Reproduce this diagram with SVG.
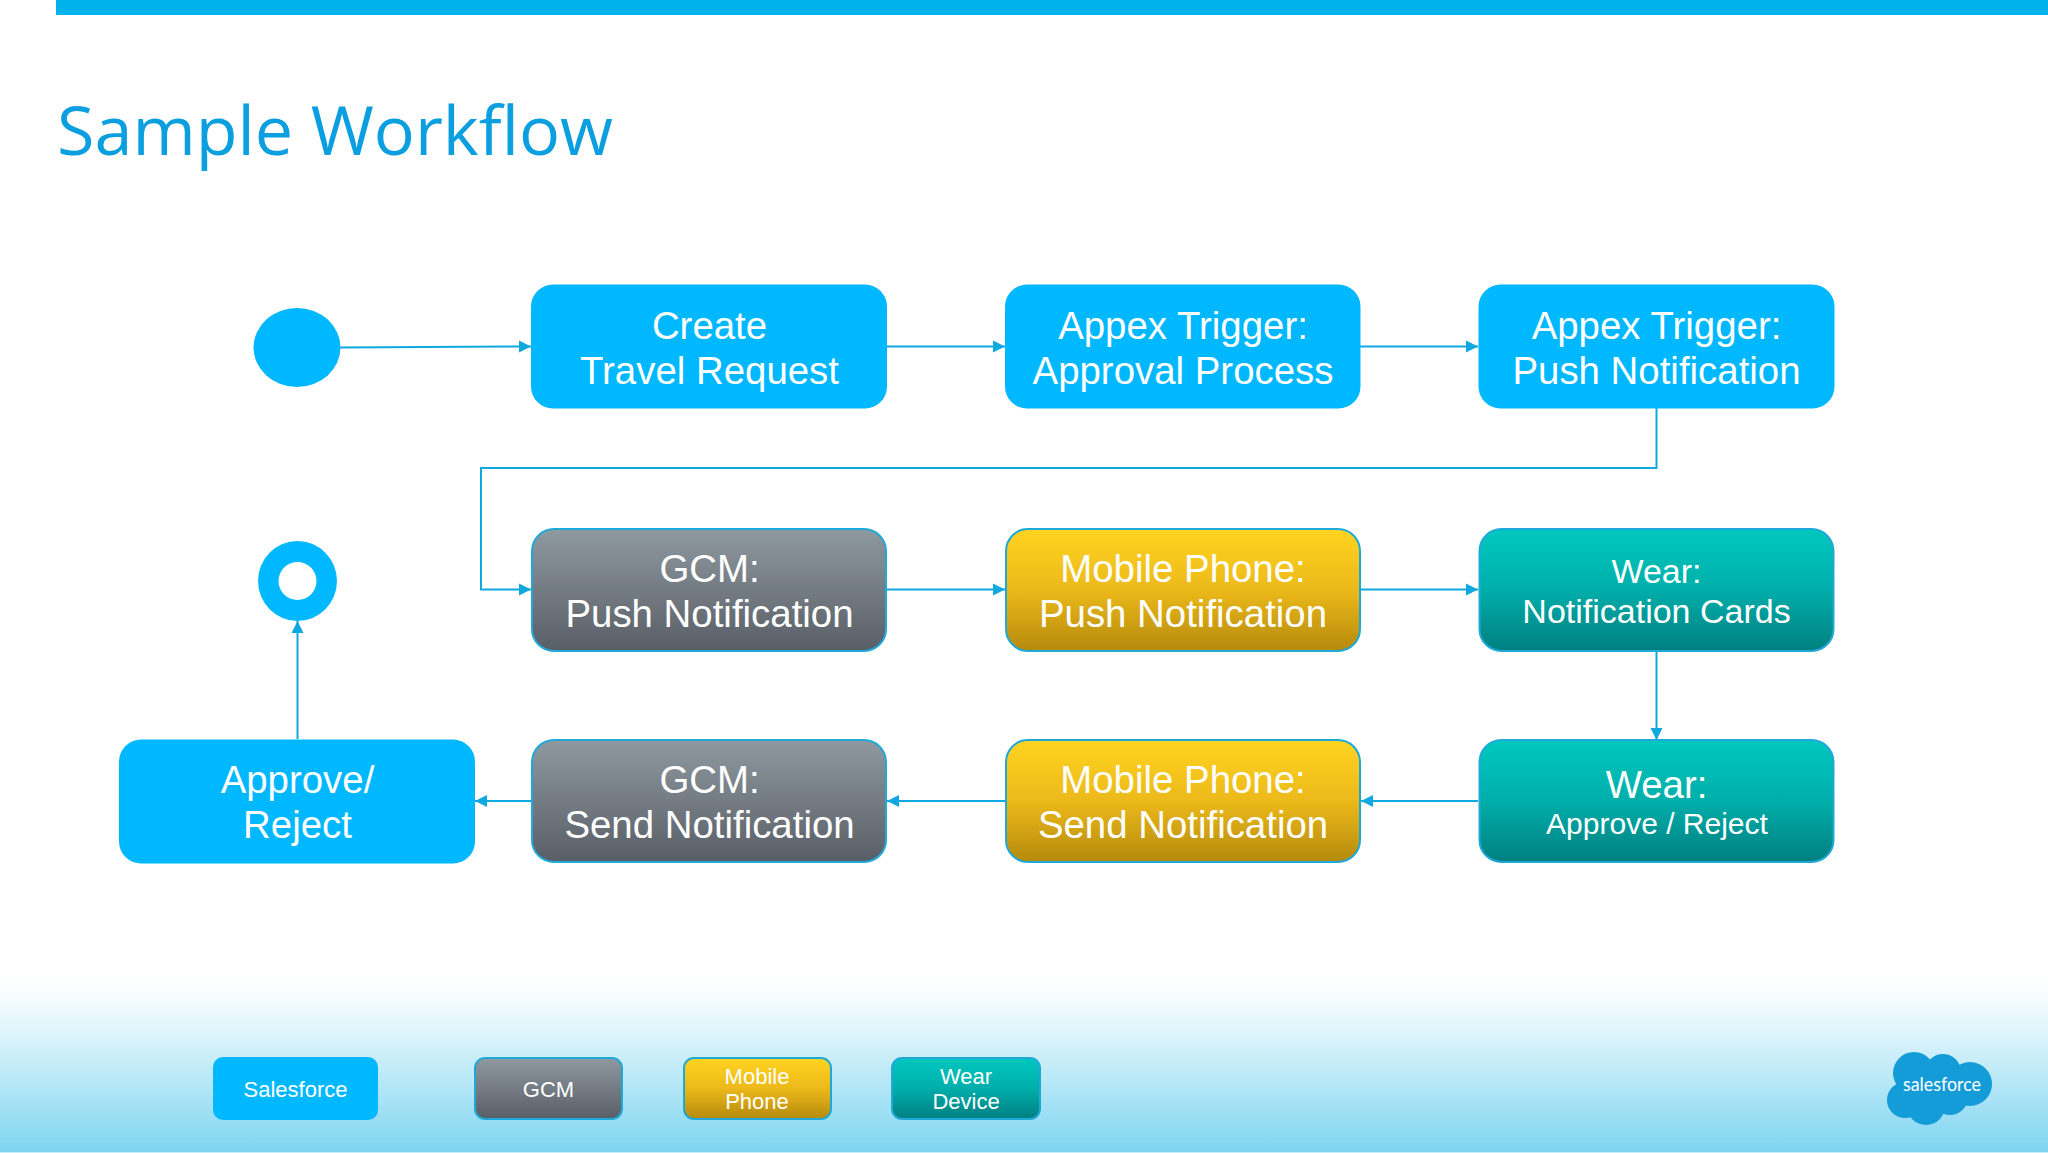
<svg xmlns="http://www.w3.org/2000/svg" width="2048" height="1153" viewBox="0 0 2048 1153">
<style>
text{font-family:"Liberation Sans",Arial,sans-serif;fill:#fff;text-anchor:middle}
.t38{font-size:38.400px}.t34{font-size:34px}.t30{font-size:30px}.t22{font-size:22px}
.blue{fill:#00b8ff}
.gcm{fill:url(#gGrey);stroke:#1fa9d8;stroke-width:2}
.mob{fill:url(#gGold);stroke:#1fa9d8;stroke-width:2}
.wear{fill:url(#gTeal);stroke:#1fa9d8;stroke-width:2}
.c{fill:none;stroke:#0fa9e0;stroke-width:2;marker-end:url(#arrow)}
</style>
<defs>
<linearGradient id="gGrey" x1="0" y1="0" x2="0" y2="1"><stop offset="0" stop-color="#8f99a0"/><stop offset="1" stop-color="#595e66"/></linearGradient>
<linearGradient id="gGold" x1="0" y1="0" x2="0" y2="1"><stop offset="0" stop-color="#ffd420"/><stop offset=".5" stop-color="#ecb91a"/><stop offset="1" stop-color="#b58a0c"/></linearGradient>
<linearGradient id="gTeal" x1="0" y1="0" x2="0" y2="1"><stop offset="0" stop-color="#00c8bf"/><stop offset=".5" stop-color="#00aeaa"/><stop offset="1" stop-color="#007f80"/></linearGradient>
<linearGradient id="gFoot" x1="0" y1="0" x2="0" y2="1"><stop offset="0" stop-color="#fff"/><stop offset=".3" stop-color="#dff5fc"/><stop offset="1" stop-color="#7fd5f1"/></linearGradient>
<marker id="arrow" markerUnits="userSpaceOnUse" markerWidth="13" markerHeight="14" refX="12" refY="6.5" orient="auto"><path d="M0 .5L12 6.5L0 12.5Z" fill="#0fa9e0"/></marker>
</defs>
<rect width="2048" height="1153" fill="#fff"/>
<rect id="footer" x="0" y="980" width="2048" height="172" fill="url(#gFoot)"/>
<rect x="0" y="1152" width="2048" height="1" fill="#c5eefa"/>
<rect id="topbar" x="56" y="0" width="1992" height="15" fill="#00b2ec"/>
<text id="title" x="57" y="155" textLength="556" lengthAdjust="spacingAndGlyphs" style="font-family:'Open Sans',sans-serif;font-size:68px;fill:#0b9fe0;text-anchor:start">Sample Workflow</text>

<g id="connectors">
<path class="c" d="M340 347.500L531 346.500"/>
<path class="c" d="M887 346.500H1005"/>
<path class="c" d="M1360 346.500H1478"/>
<path class="c" d="M1656.500 408V468H481V589.500H531"/>
<path class="c" d="M887 589.500H1005"/>
<path class="c" d="M1360 589.500H1478"/>
<path class="c" d="M1656.500 651V740"/>
<path class="c" d="M1478 801H1361"/>
<path class="c" d="M1005 801H887"/>
<path class="c" d="M531 801H475"/>
<path class="c" d="M297.500 739V621"/>
</g>

<g id="start"><ellipse class="blue" cx="297" cy="347.500" rx="43.500" ry="39.500"/></g>
<g id="end"><ellipse class="blue" cx="297.500" cy="581" rx="39.500" ry="40"/><ellipse cx="297.500" cy="581" rx="19" ry="19" fill="#fff"/></g>

<g id="create"><rect class="blue" x="531" y="284.500" width="356" height="124" rx="22"/><text class="t38" x="709.500" y="339">Create</text><text class="t38" x="709.500" y="384">Travel Request</text></g>
<g id="approval"><rect class="blue" x="1005" y="284.500" width="355.500" height="124" rx="22"/><text class="t38" x="1183" y="339">Appex Trigger:</text><text class="t38" x="1183" y="384">Approval Process</text></g>
<g id="pushtrigger"><rect class="blue" x="1478.500" y="284.500" width="356" height="124" rx="22"/><text class="t38" x="1656.500" y="339">Appex Trigger:</text><text class="t38" x="1656.500" y="384">Push Notification</text></g>

<g id="gcmpush"><rect class="gcm" x="532" y="529" width="354" height="122" rx="22"/><text class="t38" x="709.500" y="582">GCM:</text><text class="t38" x="709.500" y="627">Push Notification</text></g>
<g id="mobilepush"><rect class="mob" x="1006" y="529" width="354" height="122" rx="22"/><text class="t38" x="1183" y="582">Mobile Phone:</text><text class="t38" x="1183" y="627">Push Notification</text></g>
<g id="wearcards"><rect class="wear" x="1479.500" y="529" width="354" height="122" rx="22"/><text class="t34" x="1656.500" y="583">Wear:</text><text class="t34" x="1656.500" y="623">Notification Cards</text></g>

<g id="approve"><rect class="blue" x="119" y="739.500" width="356" height="124" rx="22"/><text class="t38" x="297.500" y="793">Approve/</text><text class="t38" x="297.500" y="838">Reject</text></g>
<g id="gcmsend"><rect class="gcm" x="532" y="740" width="354" height="122" rx="22"/><text class="t38" x="709.500" y="793">GCM:</text><text class="t38" x="709.500" y="838">Send Notification</text></g>
<g id="mobilesend"><rect class="mob" x="1006" y="740" width="354" height="122" rx="22"/><text class="t38" x="1183" y="793">Mobile Phone:</text><text class="t38" x="1183" y="838">Send Notification</text></g>
<g id="wearapprove"><rect class="wear" x="1479.500" y="740" width="354" height="122" rx="22"/><text class="t38" x="1656.500" y="798">Wear:</text><text class="t30" x="1657" y="834">Approve / Reject</text></g>

<g id="legend-salesforce"><rect class="blue" x="213" y="1057" width="165" height="63" rx="10"/><text class="t22" x="295.500" y="1097">Salesforce</text></g>
<g id="legend-gcm"><rect class="gcm" x="475" y="1058" width="147" height="61" rx="10"/><text class="t22" x="548.500" y="1097">GCM</text></g>
<g id="legend-mobile"><rect class="mob" x="684" y="1058" width="147" height="61" rx="10"/><text class="t22" x="757" y="1084">Mobile</text><text class="t22" x="757" y="1109">Phone</text></g>
<g id="legend-wear"><rect class="wear" x="892" y="1058" width="148" height="61" rx="10"/><text class="t22" x="966" y="1084">Wear</text><text class="t22" x="966" y="1109">Device</text></g>

<g id="logo" fill="#149cd8">
<circle cx="1914" cy="1073" r="21"/><circle cx="1943" cy="1072" r="18"/><circle cx="1970" cy="1084" r="22"/><circle cx="1905" cy="1100" r="18"/><circle cx="1926" cy="1106" r="19"/><circle cx="1950" cy="1097" r="18"/><rect x="1905" y="1070" width="65" height="35"/>
<text x="1942" y="1091" textLength="78" lengthAdjust="spacingAndGlyphs" style="font-family:Lato,sans-serif;font-size:19px">salesforce</text>
</g>
</svg>
